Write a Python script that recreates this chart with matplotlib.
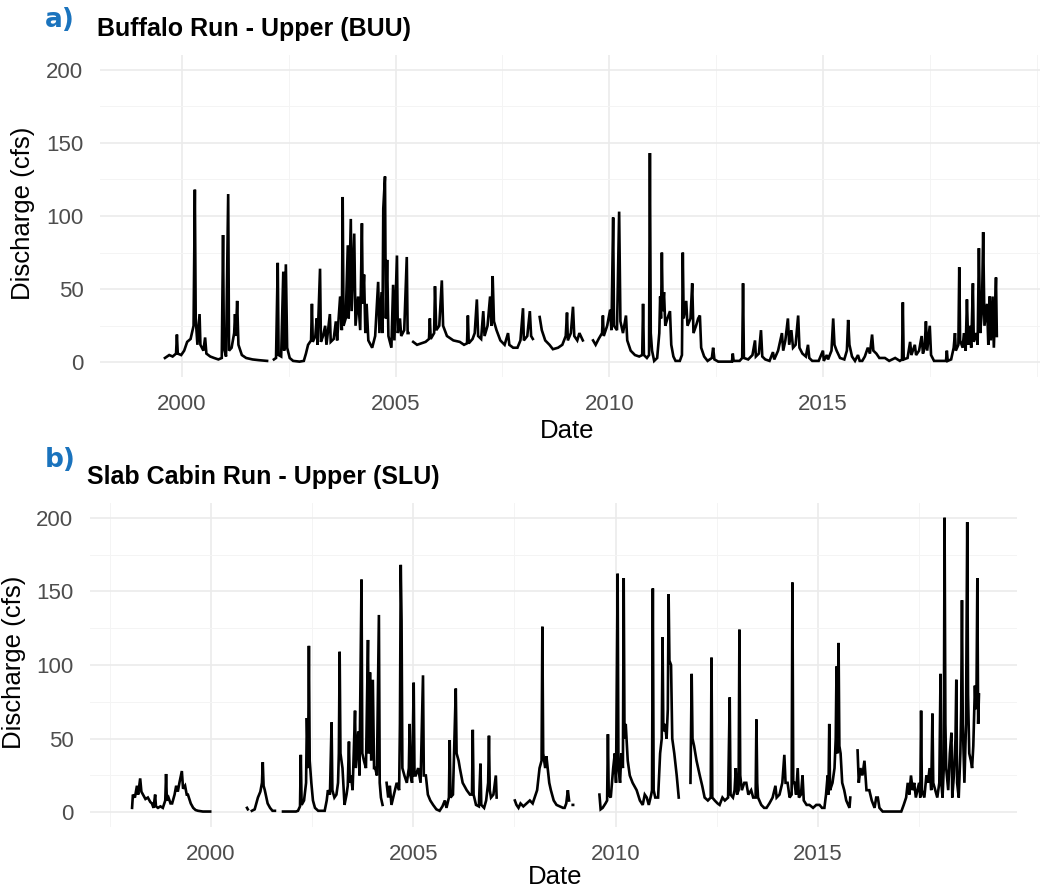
import numpy as np
import matplotlib.pyplot as plt
from matplotlib.ticker import MultipleLocator, FixedLocator

nan = np.nan

# Buffalo Run - Upper (BUU): (decimal year, discharge cfs); nan marks data gaps
buu_flow = [
    (1999.60, 3), (1999.70, 5), (1999.78, 4), (1999.86, 6), (1999.88, 19), (1999.90, 6),
    (1999.98, 5), (2000.05, 8), (2000.12, 14), (2000.20, 16), (2000.27, 25), (2000.30, 118),
    (2000.32, 30), (2000.36, 12), (2000.41, 33), (2000.43, 12), (2000.50, 8), (2000.54, 17),
    (2000.57, 6), (2000.66, 4), (2000.75, 3), (2000.85, 2), (2000.93, 3), (2000.96, 87),
    (2000.98, 10), (2001.03, 4), (2001.08, 115), (2001.10, 8), (2001.16, 10), (2001.22, 20),
    (2001.24, 33), (2001.26, 18), (2001.29, 42), (2001.32, 12), (2001.40, 5), (2001.50, 3),
    (2001.65, 2), (2001.80, 1.5), (2001.99, 1), (2002.07, nan),
    (2002.15, 2), (2002.20, 3), (2002.24, 68), (2002.26, 5), (2002.32, 4), (2002.37, 62),
    (2002.39, 8), (2002.43, 67), (2002.46, 10), (2002.52, 3), (2002.60, 1), (2002.75, 0.5),
    (2002.85, 1), (2002.90, 6), (2002.95, 12), (2003.02, 15), (2003.04, 40), (2003.06, 14),
    (2003.12, 18), (2003.15, 30), (2003.17, 12), (2003.23, 64), (2003.25, 14), (2003.30, 18),
    (2003.35, 25), (2003.38, 12), (2003.46, 33), (2003.48, 14), (2003.55, 16), (2003.60, 28),
    (2003.63, 15), (2003.70, 45), (2003.74, 22), (2003.76, 113), (2003.78, 25), (2003.83, 30),
    (2003.88, 80), (2003.90, 30), (2003.95, 98), (2003.97, 35), (2004.03, 88), (2004.06, 25),
    (2004.12, 45), (2004.17, 22), (2004.21, 95), (2004.23, 40), (2004.26, 60), (2004.29, 20),
    (2004.32, 40), (2004.36, 15), (2004.45, 10), (2004.52, 18), (2004.59, 55), (2004.62, 20),
    (2004.67, 48), (2004.69, 20), (2004.71, 105), (2004.75, 127), (2004.77, 30), (2004.80, 70),
    (2004.83, 18), (2004.90, 10), (2004.94, 53), (2004.97, 15), (2005.03, 73), (2005.05, 20),
    (2005.10, 30), (2005.13, 18), (2005.20, 22), (2005.26, 72), (2005.28, 20), (2005.30, 20),
    (2005.35, nan),
    (2005.41, 14), (2005.50, 12), (2005.60, 13), (2005.70, 14), (2005.78, 16), (2005.80, 30),
    (2005.82, 16), (2005.90, 20), (2005.92, 52), (2005.95, 22), (2006.02, 25), (2006.08, 56),
    (2006.11, 25), (2006.20, 18), (2006.35, 15), (2006.50, 14), (2006.60, 12), (2006.67, 13),
    (2006.69, 32), (2006.71, 13), (2006.80, 16), (2006.85, 20), (2006.90, 43), (2006.93, 18),
    (2007.00, 16), (2007.05, 35), (2007.08, 18), (2007.15, 25), (2007.21, 45), (2007.24, 25),
    (2007.27, 59), (2007.30, 28), (2007.36, 22), (2007.45, 15), (2007.55, 12), (2007.63, 20),
    (2007.66, 12), (2007.75, 10), (2007.85, 10), (2007.92, 15), (2007.98, 37), (2008.00, 15),
    (2008.08, 18), (2008.14, 35), (2008.17, 18), (2008.21, 16), (2008.29, nan),
    (2008.37, 31), (2008.42, 22), (2008.50, 15), (2008.60, 12), (2008.68, 9), (2008.80, 10),
    (2008.90, 12), (2008.98, 18), (2009.01, 34), (2009.03, 15), (2009.10, 20), (2009.15, 38),
    (2009.18, 18), (2009.25, 15), (2009.30, 20), (2009.38, 15), (2009.50, nan),
    (2009.62, 15), (2009.68, 12), (2009.75, 16), (2009.83, 20), (2009.85, 32), (2009.87, 18),
    (2009.95, 25), (2010.02, 36), (2010.05, 22), (2010.09, 99), (2010.11, 25), (2010.18, 22),
    (2010.23, 103), (2010.26, 28), (2010.32, 20), (2010.39, 32), (2010.42, 15), (2010.50, 8),
    (2010.60, 5), (2010.70, 4), (2010.77, 5), (2010.79, 40), (2010.81, 5), (2010.88, 3),
    (2010.93, 5), (2010.95, 143), (2010.97, 20), (2011.00, 8), (2011.05, 1), (2011.12, 3),
    (2011.17, 20), (2011.19, 45), (2011.21, 30), (2011.23, 75), (2011.25, 35), (2011.28, 48),
    (2011.31, 25), (2011.36, 30), (2011.42, 35), (2011.45, 12), (2011.50, 4), (2011.55, 1),
    (2011.65, 1), (2011.70, 5), (2011.72, 75), (2011.74, 30), (2011.80, 42), (2011.83, 25),
    (2011.90, 30), (2011.94, 54), (2011.97, 20), (2012.03, 25), (2012.08, 30), (2012.12, 32),
    (2012.15, 10), (2012.22, 4), (2012.30, 1), (2012.40, 3), (2012.43, 10), (2012.46, 2),
    (2012.55, 0.5), (2012.70, 0.5), (2012.87, 0.5), (2012.89, 6), (2012.91, 1), (2013.05, 1),
    (2013.11, 3), (2013.13, 54), (2013.15, 3), (2013.25, 2), (2013.35, 5), (2013.41, 15),
    (2013.43, 4), (2013.50, 6), (2013.55, 22), (2013.58, 4), (2013.65, 2), (2013.75, 1),
    (2013.83, 7), (2013.86, 2), (2013.95, 8), (2014.04, 20), (2014.07, 8), (2014.12, 15),
    (2014.18, 30), (2014.21, 12), (2014.26, 22), (2014.30, 10), (2014.36, 12), (2014.42, 32),
    (2014.45, 10), (2014.52, 6), (2014.60, 4), (2014.65, 12), (2014.68, 3), (2014.75, 1),
    (2014.90, 1), (2015.00, 8), (2015.02, 1), (2015.09, 5), (2015.12, 2), (2015.20, 8),
    (2015.24, 30), (2015.27, 12), (2015.32, 8), (2015.40, 3), (2015.50, 2), (2015.56, 8),
    (2015.59, 29), (2015.62, 12), (2015.68, 4), (2015.75, 1), (2015.82, 5), (2015.86, 1),
    (2015.92, 1), (2015.98, 4), (2016.05, 10), (2016.10, 6), (2016.15, 19), (2016.18, 8),
    (2016.25, 6), (2016.32, 3), (2016.45, 3), (2016.55, 1), (2016.69, 3), (2016.80, 1),
    (2016.85, 2), (2016.87, 41), (2016.89, 2), (2016.98, 3), (2017.04, 14), (2017.07, 5),
    (2017.15, 12), (2017.18, 5), (2017.25, 8), (2017.31, 18), (2017.34, 6), (2017.38, 10),
    (2017.41, 28), (2017.44, 8), (2017.50, 25), (2017.53, 5), (2017.60, 1), (2017.75, 1),
    (2017.88, 1), (2017.90, 8), (2017.92, 1), (2018.00, 2), (2018.06, 10), (2018.09, 20),
    (2018.11, 8), (2018.17, 12), (2018.19, 65), (2018.21, 15), (2018.27, 10), (2018.30, 20),
    (2018.34, 8), (2018.37, 43), (2018.40, 12), (2018.44, 25), (2018.47, 10), (2018.51, 54),
    (2018.53, 14), (2018.59, 20), (2018.62, 12), (2018.65, 78), (2018.68, 20), (2018.72, 35),
    (2018.75, 89), (2018.78, 25), (2018.84, 40), (2018.87, 12), (2018.90, 45), (2018.93, 15),
    (2018.97, 45), (2019.00, 10), (2019.05, 58), (2019.07, 18),
]

# Slab Cabin Run - Upper (SLU)
slu_flow = [
    (1998.05, 3), (1998.07, 12), (1998.12, 10), (1998.17, 18), (1998.20, 12), (1998.25, 23),
    (1998.28, 14), (1998.32, 12), (1998.38, 9), (1998.44, 10), (1998.50, 7), (1998.54, 6),
    (1998.58, 3), (1998.62, 12), (1998.64, 4), (1998.69, 3), (1998.75, 4), (1998.81, 3),
    (1998.87, 8), (1998.89, 26), (1998.91, 8), (1998.95, 10), (1999.00, 6), (1999.04, 6),
    (1999.10, 12), (1999.14, 18), (1999.18, 14), (1999.22, 20), (1999.28, 28), (1999.31, 16),
    (1999.36, 18), (1999.40, 12), (1999.43, 12), (1999.50, 6), (1999.56, 3), (1999.62, 1.5),
    (1999.68, 1), (1999.80, 0.5), (1999.98, 0.5), (2000.40, nan),
    (2000.89, 3), (2000.91, 2), (2000.96, nan),
    (2001.01, 1), (2001.08, 2), (2001.16, 10), (2001.22, 14), (2001.26, 20), (2001.28, 34),
    (2001.30, 18), (2001.33, 15), (2001.40, 6), (2001.46, 3), (2001.52, 1), (2001.58, 1),
    (2001.68, nan),
    (2001.78, 0.5), (2001.95, 0.5), (2002.10, 0.5), (2002.15, 1), (2002.20, 4), (2002.22, 39),
    (2002.24, 5), (2002.30, 8), (2002.35, 20), (2002.37, 64), (2002.40, 30), (2002.42, 113),
    (2002.44, 35), (2002.48, 20), (2002.52, 8), (2002.57, 3), (2002.65, 1), (2002.81, 1),
    (2002.86, 8), (2002.89, 15), (2002.94, 12), (2002.98, 61), (2003.00, 15), (2003.05, 10),
    (2003.10, 12), (2003.14, 20), (2003.16, 40), (2003.18, 109), (2003.20, 40), (2003.25, 30),
    (2003.30, 5), (2003.35, 12), (2003.38, 18), (2003.41, 48), (2003.43, 20), (2003.46, 25),
    (2003.50, 15), (2003.56, 69), (2003.58, 30), (2003.64, 55), (2003.67, 25), (2003.72, 158),
    (2003.74, 40), (2003.78, 35), (2003.83, 30), (2003.88, 117), (2003.90, 40), (2003.93, 95),
    (2003.96, 35), (2004.00, 90), (2004.03, 30), (2004.06, 30), (2004.10, 25), (2004.15, 134),
    (2004.17, 20), (2004.20, 10), (2004.24, 5), (2004.29, nan),
    (2004.34, 20), (2004.38, 10), (2004.42, 18), (2004.46, 5), (2004.52, 12), (2004.59, 20),
    (2004.65, 15), (2004.67, 60), (2004.69, 168), (2004.71, 130), (2004.73, 30), (2004.78, 25),
    (2004.84, 20), (2004.89, 30), (2004.91, 60), (2004.93, 25), (2004.97, 20), (2005.01, 88),
    (2005.03, 25), (2005.06, 25), (2005.12, 30), (2005.18, 20), (2005.24, 93), (2005.26, 25),
    (2005.31, 25), (2005.36, 12), (2005.42, 8), (2005.49, 5), (2005.57, 2), (2005.65, 1),
    (2005.72, 4), (2005.78, 8), (2005.82, 3), (2005.88, 10), (2005.90, 49), (2005.92, 10),
    (2005.98, 12), (2006.05, 84), (2006.07, 40), (2006.12, 35), (2006.15, 30), (2006.22, 20),
    (2006.32, 15), (2006.40, 12), (2006.45, 12), (2006.47, 56), (2006.49, 12), (2006.55, 5),
    (2006.62, 4), (2006.66, 33), (2006.68, 5), (2006.75, 3), (2006.80, 8), (2006.85, 20),
    (2006.87, 52), (2006.89, 15), (2006.92, 10), (2006.98, 12), (2007.04, 25), (2007.06, 10),
    (2007.30, nan),
    (2007.51, 8), (2007.55, 5), (2007.60, 3), (2007.65, 6), (2007.72, 4), (2007.80, 6),
    (2007.88, 8), (2007.95, 6), (2008.00, 10), (2008.06, 15), (2008.12, 30), (2008.17, 35),
    (2008.19, 126), (2008.21, 40), (2008.26, 30), (2008.29, 38), (2008.32, 30), (2008.36, 20),
    (2008.40, 15), (2008.47, 8), (2008.54, 5), (2008.62, 4), (2008.70, 3), (2008.74, 3),
    (2008.78, 6), (2008.82, 15), (2008.85, 8), (2008.90, nan), (2008.94, 5), (2008.95, 5),
    (2009.30, nan),
    (2009.60, 12), (2009.63, 2), (2009.68, 3), (2009.75, 6), (2009.79, 8), (2009.81, 53),
    (2009.83, 12), (2009.88, 10), (2009.94, 30), (2009.98, 40), (2010.01, 20), (2010.05, 162),
    (2010.07, 30), (2010.11, 20), (2010.14, 40), (2010.18, 30), (2010.20, 159), (2010.22, 50),
    (2010.25, 60), (2010.30, 35), (2010.35, 25), (2010.42, 20), (2010.52, 15), (2010.60, 8),
    (2010.67, 5), (2010.72, 12), (2010.77, 10), (2010.82, 5), (2010.88, 12), (2010.90, 15),
    (2010.92, 152), (2010.94, 15), (2010.98, 10), (2011.05, 10), (2011.10, 40), (2011.14, 50),
    (2011.16, 119), (2011.18, 55), (2011.22, 60), (2011.26, 50), (2011.29, 70), (2011.31, 148),
    (2011.33, 103), (2011.37, 100), (2011.40, 50), (2011.45, 40), (2011.51, 25), (2011.56, 10),
    (2011.70, nan),
    (2011.85, 20), (2011.88, 94), (2011.90, 50), (2011.94, 45), (2012.00, 35), (2012.08, 25),
    (2012.14, 18), (2012.20, 10), (2012.28, 8), (2012.35, 10), (2012.37, 105), (2012.39, 10),
    (2012.45, 8), (2012.52, 6), (2012.57, 5), (2012.64, 10), (2012.70, 8), (2012.78, 10),
    (2012.82, 78), (2012.84, 12), (2012.90, 10), (2012.94, 15), (2012.97, 30), (2013.00, 12),
    (2013.04, 15), (2013.06, 124), (2013.08, 25), (2013.12, 15), (2013.18, 20), (2013.23, 20),
    (2013.28, 12), (2013.35, 15), (2013.40, 10), (2013.46, 10), (2013.48, 63), (2013.50, 20),
    (2013.52, 10), (2013.60, 5), (2013.67, 3), (2013.73, 3), (2013.80, 6), (2013.88, 10),
    (2013.95, 18), (2013.98, 10), (2014.05, 12), (2014.12, 20), (2014.17, 39), (2014.20, 20),
    (2014.25, 20), (2014.30, 10), (2014.35, 12), (2014.37, 156), (2014.39, 20), (2014.42, 20),
    (2014.46, 12), (2014.50, 30), (2014.53, 10), (2014.58, 12), (2014.62, 25), (2014.65, 8),
    (2014.72, 5), (2014.79, 5), (2014.88, 3), (2014.96, 5), (2015.04, 5), (2015.10, 3),
    (2015.16, 3), (2015.20, 12), (2015.24, 25), (2015.26, 12), (2015.28, 60), (2015.30, 15),
    (2015.36, 20), (2015.41, 30), (2015.44, 50), (2015.46, 99), (2015.48, 40), (2015.51, 115),
    (2015.53, 45), (2015.56, 40), (2015.60, 20), (2015.65, 15), (2015.70, 8), (2015.78, 3),
    (2015.80, 10), (2015.90, nan),
    (2015.98, 42), (2016.01, 20), (2016.05, 30), (2016.10, 25), (2016.15, 35), (2016.20, 15),
    (2016.27, 15), (2016.33, 8), (2016.40, 3), (2016.44, 10), (2016.48, 10), (2016.52, 3),
    (2016.60, 0.5), (2016.80, 0.5), (2017.06, 0.5), (2017.12, 5), (2017.18, 10), (2017.22, 20),
    (2017.26, 12), (2017.30, 25), (2017.34, 15), (2017.38, 20), (2017.42, 10), (2017.46, 15),
    (2017.50, 20), (2017.53, 10), (2017.55, 69), (2017.57, 15), (2017.63, 10), (2017.68, 25),
    (2017.72, 20), (2017.76, 30), (2017.80, 15), (2017.83, 67), (2017.85, 20), (2017.90, 15),
    (2017.95, 10), (2018.00, 20), (2018.03, 94), (2018.05, 20), (2018.08, 10), (2018.11, 30),
    (2018.13, 200), (2018.15, 60), (2018.17, 30), (2018.22, 15), (2018.26, 40), (2018.30, 54),
    (2018.32, 10), (2018.36, 25), (2018.40, 50), (2018.42, 90), (2018.44, 20), (2018.48, 10),
    (2018.52, 40), (2018.54, 70), (2018.56, 144), (2018.58, 60), (2018.62, 20), (2018.66, 60),
    (2018.69, 197), (2018.71, 80), (2018.74, 40), (2018.78, 35), (2018.81, 30), (2018.84, 45),
    (2018.88, 86), (2018.90, 70), (2018.92, 85), (2018.94, 159), (2018.96, 60), (2018.98, 80),
]

year_ticks = [2000, 2005, 2010, 2015]
cfs_ticks = [0, 50, 100, 150, 200]

panels = [
    # tag, title, data, axes box in px (left, top, right, bottom), x range
    ("a)", "Buffalo Run - Upper (BUU)", buu_flow, (100, 55, 1040, 377), (1998.08, 2020.08)),
    ("b)", "Slab Cabin Run - Upper (SLU)", slu_flow, (90, 503, 1017, 827), (1997.01, 2019.92)),
]

W, H = 1044, 893
plt.rcParams['font.family'] = ['Liberation Sans', 'DejaVu Sans']
fig = plt.figure(figsize=(W / 100, H / 100), dpi=100)


def px(x, y):
    return x / W, 1 - y / H


for i, (tag, title, flow, box, xr) in enumerate(panels):
    l, t, r, b = box
    ax = fig.add_axes([l / W, 1 - b / H, (r - l) / W, (b - t) / H])
    yrs = np.array([p[0] for p in flow])
    cfs = np.array([p[1] for p in flow], dtype=float)
    ax.plot(yrs, cfs, color='black', lw=1.9, solid_joinstyle='miter')

    ax.set_xlim(*xr)
    ax.set_ylim(-10, 210)
    ax.xaxis.set_major_locator(FixedLocator(year_ticks))
    ax.xaxis.set_minor_locator(MultipleLocator(2.5))
    ax.yaxis.set_major_locator(FixedLocator(cfs_ticks))
    ax.yaxis.set_minor_locator(MultipleLocator(25))
    ax.grid(which='major', color='#ebebeb', lw=1.2)
    ax.grid(which='minor', color='#f4f4f4', lw=0.7)
    ax.set_axisbelow(True)
    for s in ax.spines.values():
        s.set_visible(False)
    ax.tick_params(which='both', length=0, labelsize=16, labelcolor='#4d4d4d')
    ax.tick_params(axis='x', pad=12)
    ax.tick_params(axis='y', pad=12)

    # panel tag, title and axis labels
    off = 0 if i == 0 else 448
    tx, ty = (45, 20) if i == 0 else (45, 460)
    fig.text(*px(tx, ty), tag, color='#1a73bd', fontsize=19, fontweight='bold',
             family=['DejaVu Sans'], ha='left', va='center')
    title_x = 97 if i == 0 else 87
    fig.text(*px(title_x, 29 + off), title, fontsize=18, fontweight='bold',
             ha='left', va='center')
    ylab_x = 23 if i == 0 else 14
    fig.text(*px(ylab_x, (t + b) / 2 - 3), "Discharge (cfs)", fontsize=18.5,
             rotation=90, ha='center', va='center')
    date_x = 567 if i == 0 else 555
    date_y = 431 if i == 0 else 877
    fig.text(*px(date_x, date_y), "Date", fontsize=18.5, ha='center', va='center')

fig.savefig("out.png", dpi=100, facecolor='white')
